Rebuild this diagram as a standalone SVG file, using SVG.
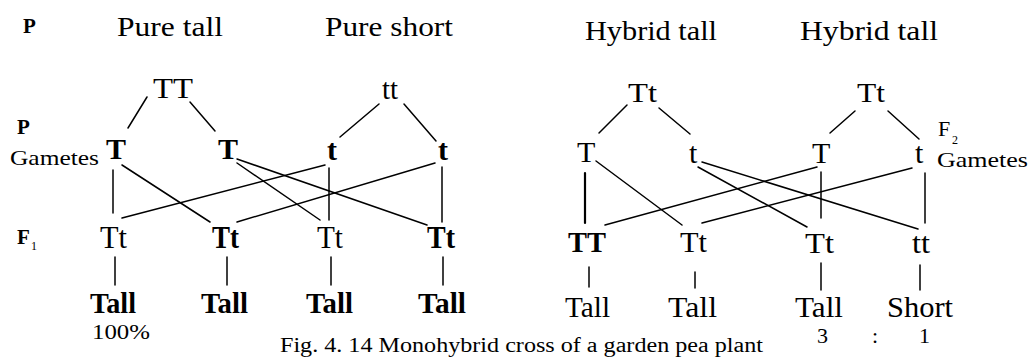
<svg xmlns="http://www.w3.org/2000/svg" width="1031" height="360" viewBox="0 0 1031 360">
  <style>
    text { font-family: "Liberation Serif", "Times New Roman", serif; fill: #000; }
    .head { font-size: 28px; }
    .gen { font-size: 30px; }
    .big { font-size: 31px; }
    .b { font-weight: bold; }
    .lab { font-size: 21px; }
    .sub { font-size: 12px; }
    .small { font-size: 22px; }
    .cap { font-size: 20px; }
    .ln { stroke: #000; stroke-width: 1.5; fill: none; stroke-linecap: round; }
    .thick { stroke-width: 2.2; }
  </style>
  <rect width="1031" height="360" fill="#fff"/>

  <!-- row labels -->
  <g id="row-labels">
    <text class="lab b" x="23" y="33">P</text>
    <text class="lab b" x="17" y="134">P</text>
    <text class="lab" x="10" y="165" textLength="89" lengthAdjust="spacingAndGlyphs">Gametes</text>
    <text class="lab b" x="17" y="244">F</text>
    <text class="sub" x="31" y="250">1</text>
    <text class="small" x="938" y="136">F</text>
    <text class="sub" x="952" y="144">2</text>
    <text class="lab" x="937" y="167" textLength="91" lengthAdjust="spacingAndGlyphs">Gametes</text>
  </g>

  <!-- parent headings -->
  <g id="headings">
    <text class="head" x="117" y="36" textLength="106" lengthAdjust="spacingAndGlyphs">Pure tall</text>
    <text class="head" x="325" y="36" textLength="128" lengthAdjust="spacingAndGlyphs">Pure short</text>
    <text class="head" x="585" y="40" textLength="132" lengthAdjust="spacingAndGlyphs">Hybrid tall</text>
    <text class="head" x="800" y="40" textLength="138" lengthAdjust="spacingAndGlyphs">Hybrid tall</text>
  </g>

  <!-- connectors -->
  <g id="connectors">
    <!-- monohybrid cross: parents to gametes -->
    <line class="ln" x1="147" y1="97" x2="128" y2="128"/>
    <line class="ln" x1="190" y1="102" x2="215" y2="131"/>
    <line class="ln" x1="379" y1="104" x2="340" y2="137"/>
    <line class="ln" x1="404" y1="104" x2="436" y2="141"/>
    <!-- gametes to F1 -->
    <line class="ln" x1="113" y1="170" x2="113" y2="213"/>
    <line class="ln" x1="122" y1="165" x2="210" y2="222"/>
    <line class="ln" x1="237" y1="163" x2="320" y2="220"/>
    <line class="ln" x1="237" y1="159" x2="427" y2="225"/>
    <line class="ln" x1="325" y1="165" x2="122" y2="218"/>
    <line class="ln" x1="329" y1="168" x2="329" y2="220"/>
    <line class="ln" x1="435" y1="163" x2="237" y2="222"/>
    <line class="ln" x1="442" y1="167" x2="442" y2="222"/>
    <!-- F1 to phenotype -->
    <line class="ln" x1="115" y1="257" x2="115" y2="285"/>
    <line class="ln" x1="227" y1="257" x2="227" y2="285"/>
    <line class="ln" x1="331" y1="257" x2="331" y2="285"/>
    <line class="ln" x1="443" y1="257" x2="443" y2="285"/>

    <!-- hybrid cross: parents to gametes -->
    <line class="ln" x1="627" y1="105" x2="599" y2="133"/>
    <line class="ln" x1="659" y1="108" x2="690" y2="134"/>
    <line class="ln" x1="855" y1="111" x2="830" y2="133"/>
    <line class="ln" x1="888" y1="111" x2="919" y2="139"/>
    <!-- gametes to F2 -->
    <line class="ln thick" x1="585" y1="173" x2="585" y2="223"/>
    <line class="ln" x1="596" y1="161" x2="682" y2="225"/>
    <line class="ln" x1="698" y1="167" x2="807" y2="227"/>
    <line class="ln" x1="702" y1="162" x2="918" y2="229"/>
    <line class="ln" x1="821" y1="172" x2="821" y2="218"/>
    <line class="ln" x1="817" y1="167" x2="605" y2="225"/>
    <line class="ln" x1="925" y1="173" x2="925" y2="223"/>
    <line class="ln" x1="912" y1="168" x2="702" y2="223"/>
    <!-- F2 to phenotype -->
    <line class="ln" x1="589" y1="267" x2="589" y2="287"/>
    <line class="ln" x1="695" y1="272" x2="695" y2="288"/>
    <line class="ln" x1="821" y1="263" x2="821" y2="290"/>
    <line class="ln" x1="920" y1="265" x2="920" y2="290"/>
  </g>

  <!-- monohybrid cross nodes -->
  <g id="parent-TT"><text class="gen" x="153" y="98" textLength="40" lengthAdjust="spacingAndGlyphs">TT</text></g>
  <g id="parent-tt"><text class="gen" x="382" y="99" textLength="16" lengthAdjust="spacingAndGlyphs">tt</text></g>
  <g id="gamete-T1"><text class="gen b" x="106" y="159">T</text></g>
  <g id="gamete-T2"><text class="gen b" x="218" y="159">T</text></g>
  <g id="gamete-t1"><text class="gen b" x="327" y="160">t</text></g>
  <g id="gamete-t2"><text class="gen b" x="438" y="160">t</text></g>
  <g id="f1-1"><text class="big" x="100" y="248" textLength="27" lengthAdjust="spacingAndGlyphs">Tt</text></g>
  <g id="f1-2"><text class="big b" x="212" y="248" textLength="27" lengthAdjust="spacingAndGlyphs">Tt</text></g>
  <g id="f1-3"><text class="big" x="317" y="248" textLength="26" lengthAdjust="spacingAndGlyphs">Tt</text></g>
  <g id="f1-4"><text class="big b" x="427" y="248" textLength="28" lengthAdjust="spacingAndGlyphs">Tt</text></g>
  <g id="pheno-1">
    <text class="gen b" x="90" y="313" textLength="46" lengthAdjust="spacingAndGlyphs">Tall</text>
    <text class="small" x="92" y="339" textLength="58" lengthAdjust="spacingAndGlyphs">100%</text>
  </g>
  <g id="pheno-2"><text class="gen b" x="201" y="313" textLength="47" lengthAdjust="spacingAndGlyphs">Tall</text></g>
  <g id="pheno-3"><text class="gen b" x="306" y="313" textLength="47" lengthAdjust="spacingAndGlyphs">Tall</text></g>
  <g id="pheno-4"><text class="gen b" x="418" y="313" textLength="48" lengthAdjust="spacingAndGlyphs">Tall</text></g>

  <!-- hybrid cross nodes -->
  <g id="hybrid-1"><text class="head" x="628" y="102" textLength="29" lengthAdjust="spacingAndGlyphs">Tt</text></g>
  <g id="hybrid-2"><text class="head" x="857" y="102" textLength="28" lengthAdjust="spacingAndGlyphs">Tt</text></g>
  <g id="gamete-T3"><text class="gen" x="577" y="162">T</text></g>
  <g id="gamete-t3"><text class="gen" x="689" y="163">t</text></g>
  <g id="gamete-T4"><text class="gen" x="812" y="163">T</text></g>
  <g id="gamete-t4"><text class="gen" x="915" y="163">t</text></g>
  <g id="f2-TT"><text class="gen b" x="568" y="252" textLength="38" lengthAdjust="spacingAndGlyphs">TT</text></g>
  <g id="f2-Tt1"><text class="gen" x="680" y="252" textLength="27" lengthAdjust="spacingAndGlyphs">Tt</text></g>
  <g id="f2-Tt2"><text class="gen" x="805" y="253" textLength="29" lengthAdjust="spacingAndGlyphs">Tt</text></g>
  <g id="f2-tt"><text class="gen" x="912" y="253" textLength="18" lengthAdjust="spacingAndGlyphs">tt</text></g>
  <g id="f2-pheno-1"><text class="gen" x="565" y="317" textLength="45" lengthAdjust="spacingAndGlyphs">Tall</text></g>
  <g id="f2-pheno-2"><text class="gen" x="668" y="317" textLength="49" lengthAdjust="spacingAndGlyphs">Tall</text></g>
  <g id="f2-pheno-3">
    <text class="gen" x="795" y="317" textLength="48" lengthAdjust="spacingAndGlyphs">Tall</text>
    <text class="small" x="817" y="343">3</text>
  </g>
  <g id="ratio-colon"><text class="small" x="872" y="343">:</text></g>
  <g id="f2-pheno-4">
    <text class="gen" x="887" y="317" textLength="66" lengthAdjust="spacingAndGlyphs">Short</text>
    <text class="small" x="919" y="343">1</text>
  </g>

  <!-- caption -->
  <text class="cap" x="280" y="352" textLength="483" lengthAdjust="spacingAndGlyphs">Fig. 4. 14 Monohybrid cross of a garden pea plant</text>
</svg>
